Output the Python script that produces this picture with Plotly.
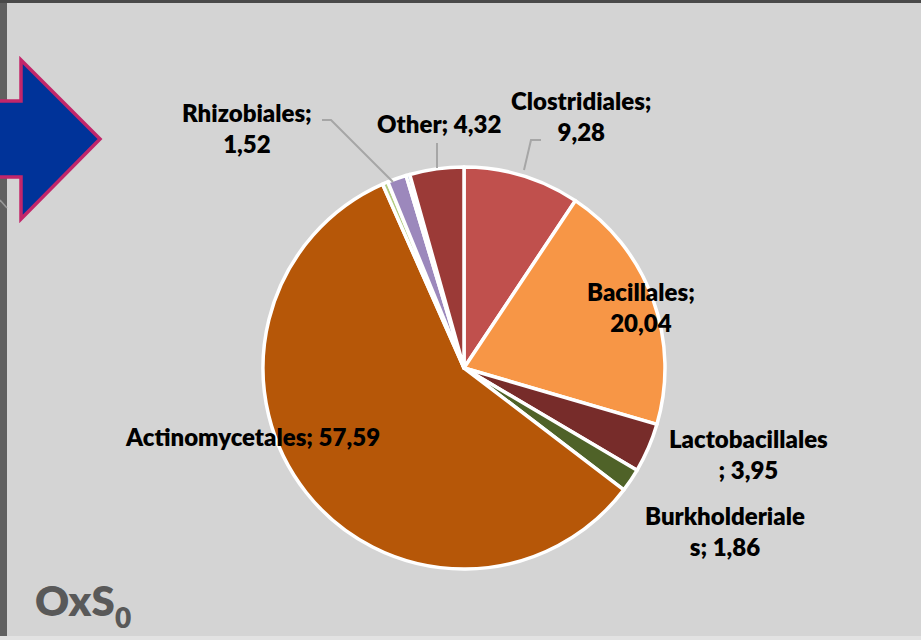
import plotly.graph_objects as go

# ---- data ----
orders = ["Clostridiales", "Bacillales", "Lactobacillales", "Burkholderiales",
          "Actinomycetales", "Minor1", "Rhizobiales", "Minor2", "Other"]
values = [9.28, 20.04, 3.95, 1.86, 57.59, 0.45, 1.52, 0.3, 4.32]
colors = ["#C0504D", "#F79646", "#772C2A", "#4F6228", "#B65708",
          "#B3CC82", "#9C88BC", "#4F81BD", "#9B3A37"]
sample_label = "OxS"
sample_sub = "0"

W, H = 921, 640
def px(x):
    return x / W
def py(y):
    return 1 - y / H

cx, cy, r = 464, 368, 201

fig = go.Figure()
fig.add_trace(go.Pie(
    labels=orders, values=values, sort=False, direction="clockwise", rotation=0,
    marker=dict(colors=colors, line=dict(color="white", width=3.5)),
    textinfo="none", hoverinfo="label+value", showlegend=False,
    domain=dict(x=[px(cx - r), px(cx + r)], y=[py(cy + r), py(cy - r)]),
))

def fmt(v):
    return f"{v:.2f}".replace(".", ",")

# label placement: (index, split position in "name; value" text, x, y)
label_specs = [
    (0, "after_sep", 581, 116),
    (1, "after_sep", 641, 307),
    (2, 15, 748, 454),
    (3, 14, 725, 531),
    (4, None, 252, 436),
    (6, "after_sep", 247, 128),
    (8, None, 439, 124),
]
annotations = []
for idx, split, x, y in label_specs:
    full = f"{orders[idx]}; {fmt(values[idx])}"
    if split == "after_sep":
        cut = len(orders[idx]) + 1
        txt = full[:cut] + "<br>" + full[cut + 1:]
    elif isinstance(split, int):
        txt = full[:split] + "<br>" + full[split:]
    else:
        txt = full
    annotations.append(dict(
        x=px(x), y=py(y), xref="paper", yref="paper", text=txt,
        showarrow=False, align="center", xanchor="center", yanchor="middle",
        font=dict(family="Lato", size=24, color="#000000", weight=800)))

annotations.append(dict(
    x=px(33), y=py(600), xref="paper", yref="paper", text=sample_label,
    showarrow=False, xanchor="left", yanchor="middle",
    font=dict(family="Lato", size=42, color="#595959", weight=800)))
annotations.append(dict(
    x=px(113), y=py(617), xref="paper", yref="paper", text=sample_sub,
    showarrow=False, xanchor="left", yanchor="middle",
    font=dict(family="Lato", size=28, color="#595959", weight=800)))

shapes = [
    # frame strips
    dict(type="rect", xref="paper", yref="paper", x0=0, x1=px(7), y0=0, y1=1,
         fillcolor="#606060", line=dict(width=0), layer="below"),
    dict(type="rect", xref="paper", yref="paper", x0=0, x1=1, y0=py(3), y1=1,
         fillcolor="#4A4A4A", line=dict(width=0), layer="below"),
    dict(type="rect", xref="paper", yref="paper", x0=0, x1=1, y0=0, y1=py(636),
         fillcolor="#E2E2E2", line=dict(width=0), layer="below"),
    dict(type="line", xref="paper", yref="paper", x0=0, y0=py(200), x1=px(7), y1=py(208),
         line=dict(color="#9A9A9A", width=1.5)),
    # arrow
    dict(type="path", xref="paper", yref="paper",
         path=(f"M {px(-5)} {py(101)} L {px(21)} {py(101)} L {px(21)} {py(60)} "
               f"L {px(100)} {py(139)} L {px(21)} {py(219)} L {px(21)} {py(177)} "
               f"L {px(-5)} {py(177)} Z"),
         fillcolor="#003399", line=dict(color="#C2266A", width=3.5)),
    # leader lines
    dict(type="path", xref="paper", yref="paper",
         path=f"M {px(541)} {py(140)} L {px(531)} {py(140)} L {px(524)} {py(170)}",
         line=dict(color="#A6A6A6", width=2)),
    dict(type="line", xref="paper", yref="paper", x0=px(437), y0=py(143), x1=px(437), y1=py(168),
         line=dict(color="#A6A6A6", width=2)),
    dict(type="path", xref="paper", yref="paper",
         path=f"M {px(322)} {py(120)} L {px(331)} {py(120)} L {px(393)} {py(182)}",
         line=dict(color="#A6A6A6", width=2)),
]

fig.update_layout(
    width=W, height=H, margin=dict(l=0, r=0, t=0, b=0),
    paper_bgcolor="#D4D4D4", plot_bgcolor="#D4D4D4",
    annotations=annotations, shapes=shapes,
)
fig.write_html("out.html", config={"displayModeBar": False},
               post_script="document.body.style.margin='0';document.body.style.overflow='hidden';")
